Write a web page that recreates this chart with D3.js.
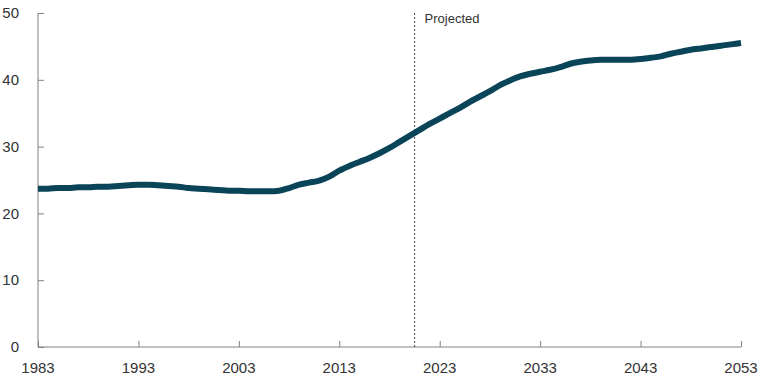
<!DOCTYPE html>
<html>
<head>
<meta charset="utf-8">
<script src="https://cdn.jsdelivr.net/npm/d3@7"></script>
<style>
  body { margin: 0; background: #fff; }
  text { font-family: 'Liberation Sans', Arial, sans-serif; }
</style>
</head>
<body>
<div id="chart"></div>
<script>
const years = d3.range(1983, 2054)
const values = [
  23.7, 23.7, 23.8, 23.8, 23.9, 23.9, 24.0, 24.0, 24.1, 24.2,
  24.3, 24.3, 24.2, 24.1, 24.0, 23.8, 23.7, 23.6, 23.5, 23.4,
  23.4, 23.3, 23.3, 23.3, 23.4, 23.8, 24.3, 24.6, 24.9, 25.5,
  26.4, 27.1, 27.7, 28.3, 29.0, 29.8, 30.7, 31.6, 32.5, 33.4,
  34.2, 35.0, 35.8, 36.7, 37.5, 38.3, 39.2, 39.9, 40.5, 40.9,
  41.2, 41.5, 41.9, 42.4, 42.7, 42.9, 43.0, 43.0, 43.0, 43.0,
  43.1, 43.3, 43.5, 43.9, 44.2, 44.5, 44.7, 44.9, 45.1, 45.3,
  45.5,
]
const xTicks = [1983, 1993, 2003, 2013, 2023, 2033, 2043, 2053]
const yTicks = [0, 10, 20, 30, 40, 50]
const projectedStart = 2020.5
const projectedLabel = 'Projected'

const width = 759
const height = 380
const margin = { top: 13, right: 18, bottom: 33, left: 38 }

const svg = d3.select('#chart')
  .append('svg')
  .attr('width', width)
  .attr('height', height)

const x = d3.scaleLinear()
  .domain([1983, 2053])
  .range([margin.left, width - margin.right])

const y = d3.scaleLinear()
  .domain([0, 50])
  .range([height - margin.bottom, margin.top])

const axisColor = '#808080'

// y axis
const yAxis = svg.append('g')
  .attr('transform', `translate(${margin.left},0)`)
  .call(d3.axisRight(y).tickValues(yTicks).tickSize(6).tickFormat(''))
yAxis.select('.domain').remove()
yAxis.selectAll('.tick line').attr('stroke', axisColor)
svg.append('line')
  .attr('x1', margin.left).attr('x2', margin.left)
  .attr('y1', y(50)).attr('y2', y(0))
  .attr('stroke', axisColor)

svg.append('g')
  .selectAll('text')
  .data(yTicks)
  .join('text')
  .attr('x', margin.left - 19)
  .attr('y', d => y(d))
  .attr('dy', '0.35em')
  .attr('text-anchor', 'end')
  .attr('font-size', 15)
  .attr('fill', '#333')
  .text(d => d)

// x axis
const xAxis = svg.append('g')
  .attr('transform', `translate(0,${y(0)})`)
  .call(d3.axisTop(x).tickValues(xTicks).tickSize(6).tickFormat(''))
xAxis.select('.domain').remove()
xAxis.selectAll('.tick line').attr('stroke', axisColor)
svg.append('line')
  .attr('x1', x(1983)).attr('x2', x(2053))
  .attr('y1', y(0)).attr('y2', y(0))
  .attr('stroke', axisColor)

svg.append('g')
  .selectAll('text')
  .data(xTicks)
  .join('text')
  .attr('x', d => x(d))
  .attr('y', height - 7)
  .attr('text-anchor', 'middle')
  .attr('font-size', 15)
  .attr('fill', '#333')
  .text(d => d)

// projected divider
svg.append('line')
  .attr('x1', x(projectedStart)).attr('x2', x(projectedStart))
  .attr('y1', y(50)).attr('y2', y(0))
  .attr('stroke', '#444')
  .attr('stroke-width', 1)
  .attr('stroke-dasharray', '2,2')

svg.append('text')
  .attr('x', x(projectedStart) + 10)
  .attr('y', 18)
  .attr('dy', '0.35em')
  .attr('font-size', 13)
  .attr('fill', '#333')
  .text(projectedLabel)

// main line
const line = d3.line()
  .x((d, i) => x(years[i]))
  .y(d => y(d))
  .curve(d3.curveMonotoneX)

svg.append('path')
  .datum(values)
  .attr('d', line)
  .attr('fill', 'none')
  .attr('stroke', '#0a4458')
  .attr('stroke-width', 6)
  .attr('stroke-linejoin', 'round')
</script>
</body>
</html>
